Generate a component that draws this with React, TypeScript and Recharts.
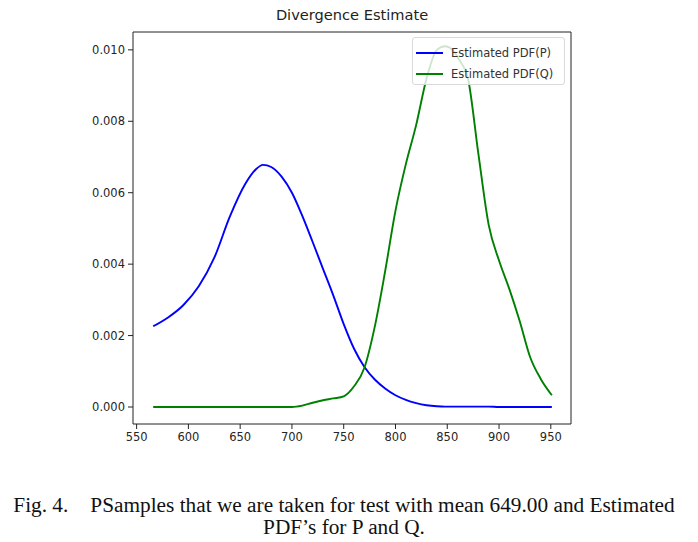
import React from "react";
import { LineChart, Line, XAxis, YAxis, ReferenceArea } from "recharts";

const xValues = [
  566, 580, 595, 610, 625, 640, 655, 665, 672, 680, 690, 700, 710, 720, 730,
  740, 750, 760, 770, 780, 790, 800, 810, 820, 830, 840, 848, 855, 862, 870,
  880, 890, 900, 910, 920, 930, 940, 951,
];

const pdfP = [
  0.00226, 0.0025, 0.00285, 0.00338, 0.00418, 0.00533, 0.00625, 0.00665,
  0.00678, 0.00672, 0.00645, 0.006, 0.00535, 0.00462, 0.00387, 0.00312,
  0.00232, 0.00163, 0.00112, 0.00077, 0.00052, 0.00033, 0.0002, 0.00011,
  0.00005, 0.00002, 0.00001, 0.00001, 0.00001, 0.00001, 0.00001, 0.00001, 0.0,
  0.0, 0.0, 0.0, 0.0, 0.0,
];

const pdfQ = [
  0.0, 0.0, 0.0, 0.0, 0.0, 0.0, 0.0, 0.0, 0.0, 0.0, 0.0, 0.0, 0.00004, 0.00012,
  0.00019, 0.00024, 0.0003, 0.00058, 0.0011, 0.00225, 0.0038, 0.0055, 0.0068,
  0.0079, 0.0092, 0.01, 0.0101, 0.01, 0.0097, 0.0092, 0.0071, 0.0051, 0.0041,
  0.0033, 0.0024, 0.0014, 0.0008, 0.00033,
];

const xTicks = [550, 600, 650, 700, 750, 800, 850, 900, 950];
const yTicks = [0, 0.002, 0.004, 0.006, 0.008, 0.01];

const seriesNames = ["Estimated PDF(P)", "Estimated PDF(Q)"];
const seriesColors = ["blue", "green"];
const title = "Divergence Estimate";
const captionLine1Label = "Fig. 4.";
const captionLine1Text =
  "PSamples that we are taken for test with mean 649.00 and Estimated";
const captionLine2 = "PDF\u2019s for P and Q.";

const data = xValues.map((x, i) => ({ x, p: pdfP[i], q: pdfQ[i] }));

const X_DOMAIN: [number, number] = [546.5, 969.5];
const Y_DOMAIN: [number, number] = [-0.000476, 0.0105];

const tickFont = {
  fontFamily: "DejaVu Sans",
  fontSize: 11.5,
  fill: "#262626",
};

export default function App() {
  return (
    <div
      style={{
        position: "absolute",
        left: 0,
        top: 0,
        width: 698,
        height: 542,
        background: "#fff",
      }}
    >
      <div
        style={{
          position: "absolute",
          left: 152,
          width: 400,
          top: 6,
          textAlign: "center",
          fontFamily: "DejaVu Sans",
          fontSize: 14.6,
          color: "#222",
        }}
      >
        {title}
      </div>
      <LineChart
        width={698}
        height={470}
        data={data}
        margin={{ top: 32, right: 127, bottom: 16, left: 71 }}
      >
        <XAxis
          dataKey="x"
          type="number"
          domain={X_DOMAIN}
          ticks={xTicks}
          allowDataOverflow
          tick={tickFont}
          tickSize={5}
          tickMargin={4}
          axisLine={false}
          tickLine={{ stroke: "#222" }}
          height={30}
        />
        <YAxis
          type="number"
          domain={Y_DOMAIN}
          ticks={yTicks}
          allowDataOverflow
          tick={tickFont}
          tickFormatter={(v: number) => v.toFixed(3)}
          tickSize={5}
          tickMargin={3}
          axisLine={false}
          tickLine={{ stroke: "#222" }}
          width={62}
        />
        <ReferenceArea
          x1={X_DOMAIN[0]}
          x2={X_DOMAIN[1]}
          y1={Y_DOMAIN[0]}
          y2={Y_DOMAIN[1]}
          fill="none"
          stroke="#222"
          strokeWidth={1}
          ifOverflow="visible"
        />
        <Line
          dataKey="p"
          name={seriesNames[0]}
          type="monotone"
          stroke={seriesColors[0]}
          strokeWidth={1.9}
          dot={false}
          isAnimationActive={false}
        />
        <Line
          dataKey="q"
          name={seriesNames[1]}
          type="monotone"
          stroke={seriesColors[1]}
          strokeWidth={1.9}
          dot={false}
          isAnimationActive={false}
        />
      </LineChart>
      <div
        style={{
          position: "absolute",
          left: 412,
          top: 37,
          width: 153,
          height: 48,
          boxSizing: "border-box",
          border: "1px solid #d9d9d9",
          borderRadius: 3,
          background: "rgba(255,255,255,0.8)",
          fontFamily: "DejaVu Sans",
          fontSize: 11.5,
          color: "#333",
          padding: "4px 0 0 3px",
        }}
      >
        {seriesNames.map((name, i) => (
          <div
            key={name}
            style={{ display: "flex", alignItems: "center", height: 21 }}
          >
            <span
              style={{
                display: "inline-block",
                width: 27,
                height: 2,
                background: seriesColors[i],
                marginRight: 8,
              }}
            />
            <span>{name}</span>
          </div>
        ))}
      </div>
      <div
        style={{
          position: "absolute",
          left: 0,
          width: 688,
          top: 494,
          textAlign: "center",
          fontFamily: "Liberation Serif",
          fontSize: 21.3,
          lineHeight: "22px",
          color: "#111",
          whiteSpace: "nowrap",
        }}
      >
        <div>
          {captionLine1Label}
          <span style={{ display: "inline-block", width: 22 }} />
          {captionLine1Text}
        </div>
        <div>{captionLine2}</div>
      </div>
    </div>
  );
}
